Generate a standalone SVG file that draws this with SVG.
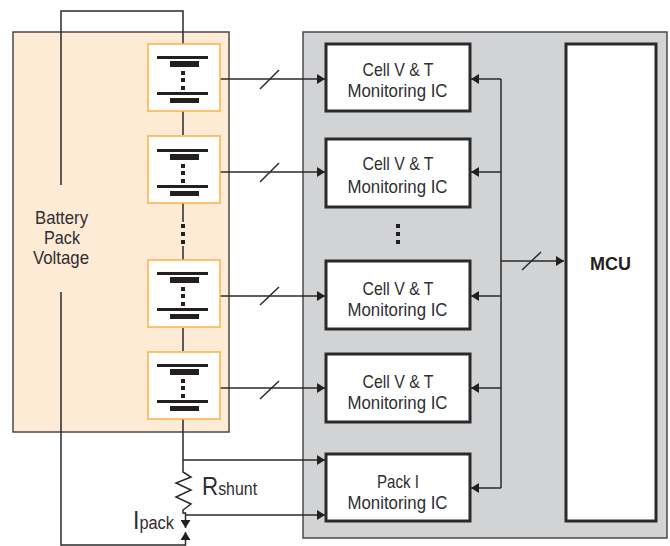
<svg xmlns="http://www.w3.org/2000/svg" width="670" height="546" viewBox="0 0 670 546">
<style>
text{font-family:"Liberation Sans",Arial,sans-serif;fill:#2f2e30;text-anchor:middle;font-size:18.500px}
.ln{fill:none;stroke:#2b2a2b;stroke-width:1.500}
.cell{fill:#fff;stroke:#fdb44f;stroke-width:1.600}
.ic{fill:#fff;stroke:#2b2a2b;stroke-width:3}
.k{fill:#231f20}
</style>
<defs>
<marker id="a" markerUnits="userSpaceOnUse" markerWidth="9" markerHeight="10" refX="8" refY="5" orient="auto"><path d="M0 0L8 5L0 10Z" fill="#231f20"/></marker>
<g id="bat">
<rect class="k" x="157" y="56" width="51" height="3"/><rect class="k" x="170" y="61" width="29" height="6"/>
<rect class="k" x="181" y="71" width="4" height="4"/><rect class="k" x="181" y="78" width="4" height="4"/><rect class="k" x="181" y="86" width="4" height="4"/>
<rect class="k" x="157" y="92" width="51" height="3"/><rect class="k" x="170" y="98" width="29" height="5"/>
</g>
</defs>
<rect id="pack" x="13" y="32" width="216" height="400" fill="#fdebd6" stroke="#4a4a4a" stroke-width="1.500"/>
<rect id="ctrl" x="303" y="32" width="364" height="506" fill="#d1d3d4" stroke="#4a4a4a" stroke-width="1.500"/>
<g id="connectors">
<path class="ln" d="M61 185V11H183V44"/>
<path class="ln" d="M61 292V545H185.500V532" marker-end="url(#a)"/>
<path class="ln" d="M183 111V135M183 203V222M183 246V260M183 328V351M183 419V472L191 477L176 483L191 490L176 497L191 504L183 510V513H185.500V528" marker-end="url(#a)"/>
<path class="ln" d="M220 79H325" marker-end="url(#a)"/>
<path class="ln" d="M220 172H325" marker-end="url(#a)"/>
<path class="ln" d="M220 296H325" marker-end="url(#a)"/>
<path class="ln" d="M220 388H325" marker-end="url(#a)"/>
<path class="ln" d="M183 460H325" marker-end="url(#a)"/>
<path class="ln" d="M185 515H325" marker-end="url(#a)"/>
<path class="ln" d="M501 79V488"/>
<path class="ln" d="M501 79H471" marker-end="url(#a)"/>
<path class="ln" d="M501 172H471" marker-end="url(#a)"/>
<path class="ln" d="M501 296H471" marker-end="url(#a)"/>
<path class="ln" d="M501 388H471" marker-end="url(#a)"/>
<path class="ln" d="M501 488H471" marker-end="url(#a)"/>
<path class="ln" d="M501 261H564" marker-end="url(#a)"/>
<path class="ln" d="M260 89L279 70M260 182L279 163M260 305L279 287M260 399L279 381M522 270L541 252"/>
</g>
<g id="dots"><rect class="k" x="181" y="224" width="4" height="4"/><rect class="k" x="181" y="232" width="4" height="4"/><rect class="k" x="181" y="240" width="4" height="4"/>
<rect class="k" x="396" y="224" width="4" height="4"/><rect class="k" x="396" y="232" width="4" height="4"/><rect class="k" x="396" y="240" width="4" height="4"/></g>
<g id="cell1"><rect class="cell" x="148" y="44" width="72" height="67"/><use href="#bat"/></g>
<g id="cell2"><rect class="cell" x="148" y="136" width="72" height="67"/><use href="#bat" y="93"/></g>
<g id="cell3"><rect class="cell" x="148" y="260" width="72" height="67"/><use href="#bat" y="216"/></g>
<g id="cell4"><rect class="cell" x="148" y="352" width="72" height="67"/><use href="#bat" y="308"/></g>
<g id="ic1"><rect class="ic" x="326" y="44" width="144" height="67"/><text x="398" y="76" textLength="71" lengthAdjust="spacingAndGlyphs">Cell V &amp; T</text><text x="397.500" y="97" textLength="100" lengthAdjust="spacingAndGlyphs">Monitoring IC</text></g>
<g id="ic2"><rect class="ic" x="326" y="139" width="144" height="68"/><text x="398" y="170" textLength="71" lengthAdjust="spacingAndGlyphs">Cell V &amp; T</text><text x="397.500" y="193" textLength="100" lengthAdjust="spacingAndGlyphs">Monitoring IC</text></g>
<g id="ic3"><rect class="ic" x="326" y="261" width="144" height="68"/><text x="398" y="295" textLength="71" lengthAdjust="spacingAndGlyphs">Cell V &amp; T</text><text x="397.500" y="316" textLength="100" lengthAdjust="spacingAndGlyphs">Monitoring IC</text></g>
<g id="ic4"><rect class="ic" x="326" y="354" width="144" height="68"/><text x="398" y="388" textLength="71" lengthAdjust="spacingAndGlyphs">Cell V &amp; T</text><text x="397.500" y="409" textLength="100" lengthAdjust="spacingAndGlyphs">Monitoring IC</text></g>
<g id="ic5"><rect class="ic" x="326" y="454" width="144" height="67"/><text x="398" y="488" textLength="42" lengthAdjust="spacingAndGlyphs">Pack I</text><text x="397.500" y="509" textLength="100" lengthAdjust="spacingAndGlyphs">Monitoring IC</text></g>
<g id="mcu"><rect class="ic" x="566" y="44" width="90" height="477"/><text x="610.500" y="270" textLength="41" lengthAdjust="spacingAndGlyphs" style="font-weight:bold;fill:#231f20">MCU</text></g>
<g id="labels">
<text x="61.500" y="224" textLength="53" lengthAdjust="spacingAndGlyphs">Battery</text><text x="62" y="244" textLength="36" lengthAdjust="spacingAndGlyphs">Pack</text><text x="61" y="264" textLength="56" lengthAdjust="spacingAndGlyphs">Voltage</text>
<text transform="translate(202 495) scale(.86 1)" style="text-anchor:start;font-size:26px">R<tspan font-size="18.500">shunt</tspan></text>
<text transform="translate(133 529) scale(.885 1)" style="text-anchor:start;font-size:26px">I<tspan font-size="18.500">pack</tspan></text>
</g>
</svg>
